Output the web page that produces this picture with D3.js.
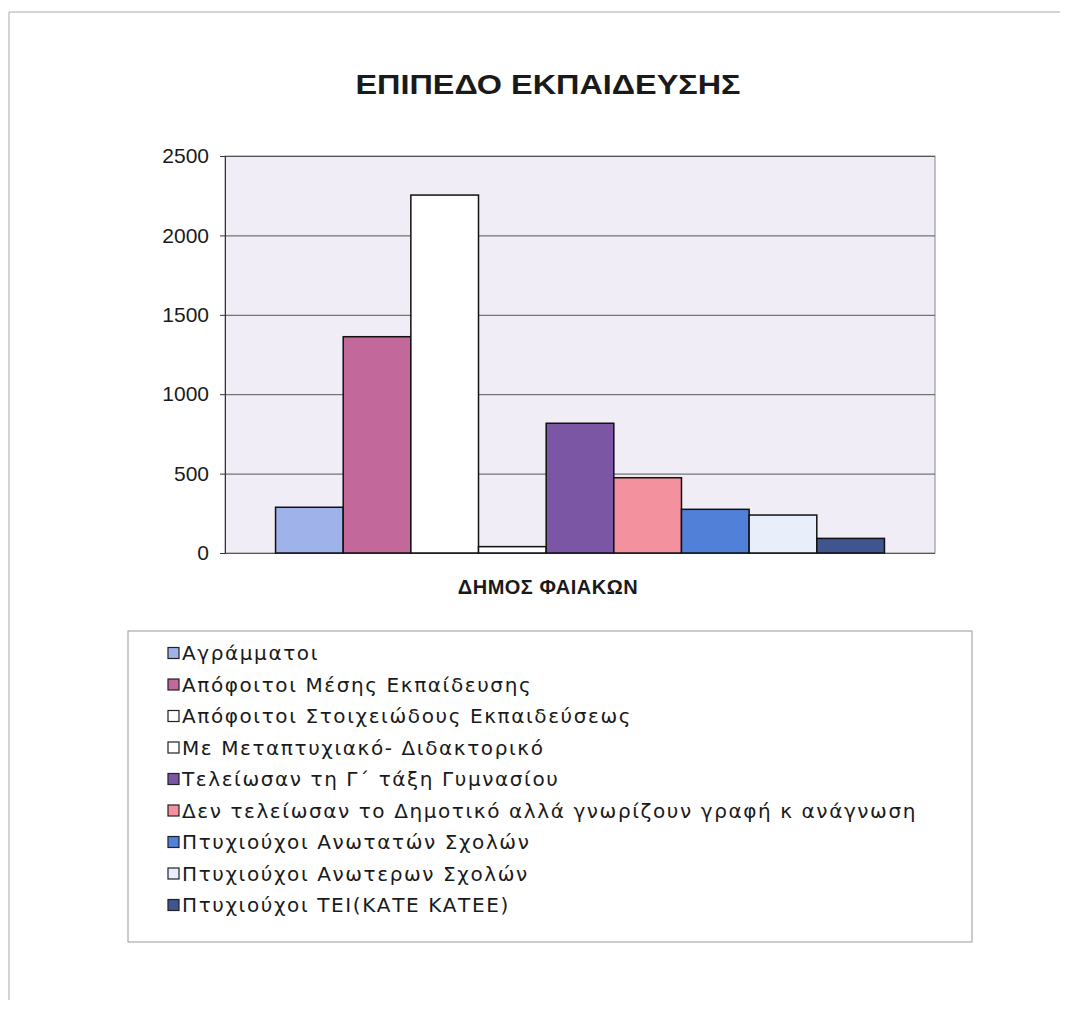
<!DOCTYPE html>
<html>
<head>
<meta charset="utf-8">
<script src="https://cdn.jsdelivr.net/npm/d3@7"></script>
<style>
  body { margin: 0; background: #fff; }
  svg { display: block; font-family: "Liberation Sans", Arial, sans-serif; }
</style>
</head>
<body>
<svg id="chart" width="1068" height="1010"></svg>
<script>
// data
const title = "ΕΠΙΠΕΔΟ ΕΚΠΑΙΔΕΥΣΗΣ";
const groupLabel = "ΔΗΜΟΣ ΦΑΙΑΚΩΝ";
const categories = [
    "Αγράμματοι",
    "Απόφοιτοι Μέσης Εκπαίδευσης",
    "Απόφοιτοι Στοιχειώδους Εκπαιδεύσεως",
    "Με Μεταπτυχιακό- Διδακτορικό",
    "Τελείωσαν τη Γ΄ τάξη Γυμνασίου",
    "Δεν τελείωσαν το Δημοτικό αλλά γνωρίζουν γραφή κ ανάγνωση",
    "Πτυχιούχοι Ανωτατών Σχολών",
    "Πτυχιούχοι Ανωτερων Σχολών",
    "Πτυχιούχοι ΤΕΙ(ΚΑΤΕ ΚΑΤΕΕ)"
];
const values = [288, 1362, 2254, 40, 817, 474, 275, 239, 92];
const colors = ["#9fb3ea", "#c2689a", "#ffffff", "#ffffff", "#7b56a4",
                "#f3929e", "#5080d8", "#e8eefa", "#40558f"];
const yTicks = [0, 500, 1000, 1500, 2000, 2500];

const svg = d3.select("#chart");

// faint frame of the scanned page
svg.append("path")
    .attr("d", "M9,1000 V12 H1060")
    .attr("fill", "none")
    .attr("stroke", "#aaa")
    .attr("stroke-width", 1);

const plot = { left: 225, right: 935, top: 156, bottom: 553 };

const group = d3.scaleBand()
    .domain([groupLabel])
    .range([plot.left, plot.right])
    .paddingInner(0)
    .paddingOuter(0.083);

const x = d3.scaleBand()
    .domain(categories)
    .range([group(groupLabel), group(groupLabel) + group.bandwidth()]);

const y = d3.scaleLinear()
    .domain([0, 2500])
    .range([plot.bottom, plot.top]);

// title
svg.append("text")
    .attr("x", 548)
    .attr("y", 94)
    .attr("text-anchor", "middle")
    .attr("font-size", 28)
    .attr("font-weight", "bold")
    .attr("fill", "#1a1a1a")
    .attr("textLength", 385)
    .attr("lengthAdjust", "spacingAndGlyphs")
    .text(title);

// plot background
svg.append("rect")
    .attr("x", plot.left)
    .attr("y", plot.top)
    .attr("width", plot.right - plot.left)
    .attr("height", plot.bottom - plot.top)
    .attr("fill", "#f1edf6")
    .attr("stroke", "#8a8a8a")
    .attr("stroke-width", 1);

// gridlines
svg.append("g")
    .selectAll("line")
    .data(yTicks.filter(d => d > 0))
    .enter().append("line")
    .attr("x1", plot.left)
    .attr("x2", plot.right)
    .attr("y1", d => y(d) + 0.5)
    .attr("y2", d => y(d) + 0.5)
    .attr("stroke", "#555")
    .attr("stroke-width", 1);

// y axis
const yAxis = svg.append("g")
    .attr("transform", `translate(${plot.left},0)`)
    .call(d3.axisLeft(y).tickValues(yTicks).tickFormat(d3.format("d")).tickSize(5).tickPadding(11));
yAxis.select(".domain").attr("stroke", "#333");
yAxis.selectAll(".tick line").attr("stroke", "#333");
yAxis.selectAll(".tick text")
    .attr("font-size", 21)
    .attr("fill", "#1a1a1a")
    .attr("font-family", "'Liberation Sans', Arial, sans-serif");

// bottom axis line
svg.append("line")
    .attr("x1", plot.left)
    .attr("x2", plot.right)
    .attr("y1", plot.bottom + 0.5)
    .attr("y2", plot.bottom + 0.5)
    .attr("stroke", "#555");

// bars
svg.append("g")
    .selectAll("rect")
    .data(values)
    .enter().append("rect")
    .attr("x", (d, i) => x(categories[i]))
    .attr("y", d => y(d))
    .attr("width", x.bandwidth())
    .attr("height", d => y(0) - y(d))
    .attr("fill", (d, i) => colors[i])
    .attr("stroke", "#111")
    .attr("stroke-width", 1.5);

// category label
svg.append("text")
    .attr("x", 548)
    .attr("y", 594)
    .attr("text-anchor", "middle")
    .attr("font-size", 20)
    .attr("font-weight", "bold")
    .attr("letter-spacing", 0.5)
    .attr("fill", "#1a1a1a")
    .text(groupLabel);

// legend
svg.append("rect")
    .attr("x", 128)
    .attr("y", 631)
    .attr("width", 972 - 128)
    .attr("height", 942 - 631)
    .attr("fill", "#fff")
    .attr("stroke", "#999")
    .attr("stroke-width", 1);

const legend = svg.append("g")
    .selectAll("g")
    .data(categories)
    .enter().append("g")
    .attr("transform", (d, i) => `translate(168,${653 + i * 31.5})`);

legend.append("rect")
    .attr("x", 0)
    .attr("y", -5.5)
    .attr("width", 11)
    .attr("height", 11)
    .attr("fill", (d, i) => colors[i])
    .attr("stroke", "#222")
    .attr("stroke-width", 1.2);

const legendText = legend.append("text")
    .attr("x", 14)
    .attr("y", 0)
    .attr("dy", "0.36em")
    .attr("font-size", 20)
    .attr("font-family", "'DejaVu Sans', sans-serif")
    .attr("fill", "#1a1a1a")
    .text(d => d);

// spread letters so the longest entry reaches the right side as in the scan
let longest = 0, longestChars = 1;
legendText.each(function(d) {
    const w = this.getComputedTextLength();
    if (w > longest) { longest = w; longestChars = d.length; }
});
const spacing = Math.max(0, (735 - longest) / longestChars);
legendText.attr("letter-spacing", spacing);
</script>
</body>
</html>
